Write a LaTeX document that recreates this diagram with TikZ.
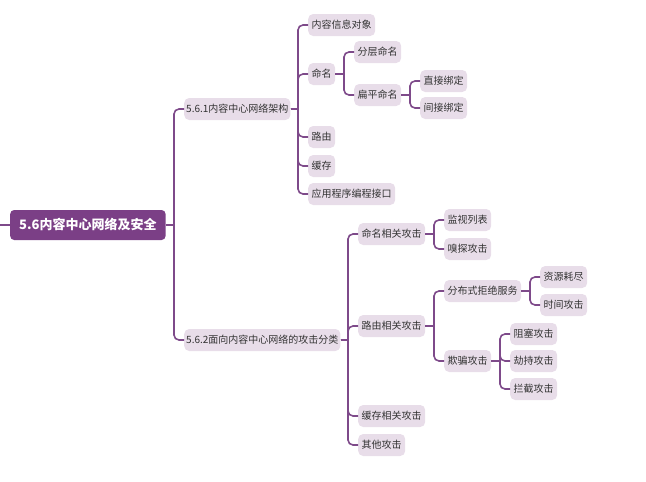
\documentclass[tikz,border=0pt]{standalone}
\usepackage{fontspec}
\setmainfont{Noto Sans CJK SC}
\usetikzlibrary{calc}
\definecolor{cRoot}{RGB}{123,63,134}
\definecolor{cLeaf}{RGB}{232,221,233}
\definecolor{cLine}{RGB}{126,74,138}
\definecolor{cText}{RGB}{51,51,51}
\tikzset{
  basebox/.style={rectangle,rounded corners=5pt,fill=cLeaf,text=cText,anchor=west,
                  inner xsep=3.5pt,inner ysep=0pt,minimum height=22pt,
                  font=\fontsize{10}{12}\selectfont},
  numbox/.style={basebox,inner xsep=2pt},
  rootnode/.style={basebox,fill=cRoot,text=white,rounded corners=4pt,
                   inner xsep=9pt,minimum height=30pt,
                   font=\fontsize{13}{15}\selectfont\bfseries},
  link/.style={draw=cLine,line width=1.6pt},
  elbowlink/.style={link,rounded corners=5pt}
}
\begin{document}
\begin{tikzpicture}[x=1pt,y=-1pt]
  \useasboundingbox (0,0) rectangle (646,482);
  % root and first level
  \node[rootnode] (root) at (10,225) {5.6内容中心网络及安全};
  \node[numbox] (arch) at (184,109) {5.6.1内容中心网络架构};
  \node[numbox] (atk)  at (184,340) {5.6.2面向内容中心网络的攻击分类};
  % architecture branch
  \node[basebox] (obj)   at (308,25)  {内容信息对象};
  \node[basebox] (name)  at (308,74)  {命名};
  \node[basebox] (route) at (308,137) {路由};
  \node[basebox] (cache) at (308,166) {缓存};
  \node[basebox] (api)   at (308,194) {应用程序编程接口};
  \node[basebox] (hier)  at (354,52)  {分层命名};
  \node[basebox] (flat)  at (354,95)  {扁平命名};
  \node[basebox] (direct)   at (420,81)  {直接绑定};
  \node[basebox] (indirect) at (420,108) {间接绑定};
  % attack branch
  \node[basebox] (natk) at (358,234) {命名相关攻击};
  \node[basebox] (ratk) at (358,326) {路由相关攻击};
  \node[basebox] (catk) at (358,416) {缓存相关攻击};
  \node[basebox] (oatk) at (358,445) {其他攻击};
  \node[basebox] (watch) at (444,220) {监视列表};
  \node[basebox] (sniff) at (444,249) {嗅探攻击};
  \node[basebox] (ddos)  at (444,291) {分布式拒绝服务};
  \node[basebox] (spoof) at (444,361) {欺骗攻击};
  \node[basebox] (drain)  at (540,277) {资源耗尽};
  \node[basebox] (timing) at (540,305) {时间攻击};
  \node[basebox] (block)     at (510,334) {阻塞攻击};
  \node[basebox] (hijack)    at (510,361) {劫持攻击};
  \node[basebox] (intercept) at (510,389) {拦截攻击};

  % connectors
  \coordinate (edge) at (0,225);
  \draw[link] (edge) -- (root.west);
  \foreach \p/\kids in {root/{arch,atk},arch/{obj,name,route,cache,api},
                        name/{hier,flat},flat/{direct,indirect},
                        atk/{natk,ratk,catk,oatk},natk/{watch,sniff},
                        ratk/{ddos,spoof},ddos/{drain,timing},
                        spoof/{block,hijack,intercept}}{
    \foreach \k in \kids{
      \draw[link] (\p.east) -- ($(\p.east -| \k.west)+(-10,0)$);
      \draw[elbowlink] ($(\p.east -| \k.west)+(-10,0)$) |- (\k.west);
    }
  }
\end{tikzpicture}
\end{document}
